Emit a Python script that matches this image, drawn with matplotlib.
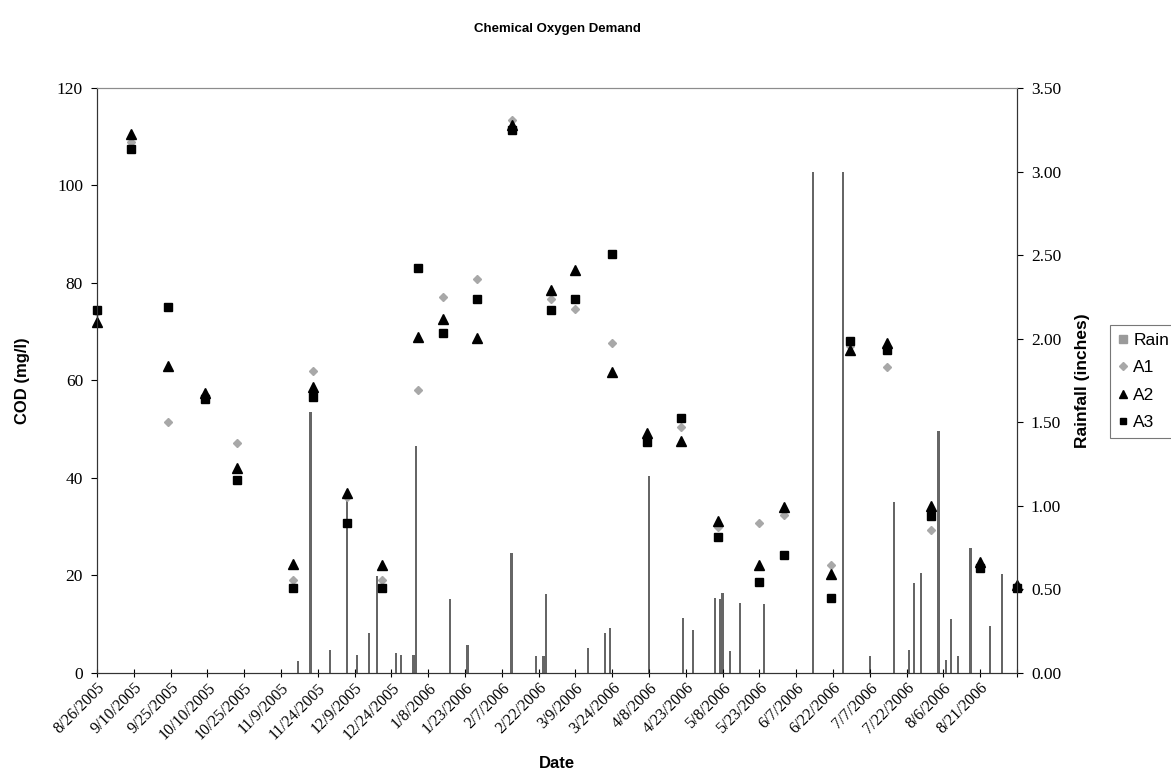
import matplotlib
matplotlib.use('Agg')
import matplotlib.pyplot as plt
from matplotlib.lines import Line2D
import pandas as pd

# COD samples (mg/l)
sample_dates = [
    "8/26/2005", "9/9/2005", "9/24/2005", "10/9/2005", "10/22/2005",
    "11/14/2005", "11/22/2005", "12/6/2005", "12/20/2005", "1/4/2006",
    "1/14/2006", "1/28/2006", "2/11/2006", "2/27/2006", "3/9/2006",
    "3/24/2006", "4/7/2006", "4/21/2006", "5/6/2006", "5/23/2006",
    "6/2/2006", "6/21/2006", "6/29/2006", "7/14/2006", "8/1/2006",
    "8/21/2006", "9/5/2006",
]
a1 = [74, 109, 51.5, 57, 47.2, 19, 62, 36, 19, 58,
      77.1, 80.8, 113.5, 76.7, 74.7, 67.7, 48, 50.5, 30, 30.8,
      32.4, 22.2, 67, 62.8, 29.3, 22, 18]
a2 = [72, 110.5, 63, 57.5, 42, 22.3, 58.7, 37, 22.2, 69,
      72.6, 68.7, 112.5, 78.6, 82.7, 61.7, 49.2, 47.6, 31.2, 22.2,
      34, 20.3, 66.3, 67.7, 34.2, 22.8, 18]
a3 = [74.5, 107.5, 75, 56.3, 39.6, 17.4, 56.6, 30.8, 17.4, 83,
      69.7, 76.7, 111.3, 74.5, 76.7, 85.9, 47.3, 52.3, 27.9, 18.7,
      24.2, 15.4, 68.1, 66.3, 32.2, 21.5, 17.4]

# daily rainfall (inches)
rain_dates = [
    "11/16/2005", "11/21/2005", "11/29/2005", "12/6/2005", "12/10/2005",
    "12/15/2005", "12/18/2005", "12/26/2005", "12/28/2005", "1/2/2006",
    "1/3/2006", "1/17/2006", "1/24/2006", "2/11/2006", "2/21/2006",
    "2/24/2006", "2/25/2006", "3/14/2006", "3/21/2006", "3/23/2006",
    "4/8/2006", "4/22/2006", "4/26/2006", "5/5/2006", "5/7/2006",
    "5/8/2006", "5/11/2006", "5/15/2006", "5/25/2006", "6/14/2006",
    "6/26/2006", "7/7/2006", "7/17/2006", "7/23/2006", "7/25/2006",
    "7/28/2006", "8/4/2006", "8/7/2006", "8/9/2006", "8/12/2006",
    "8/17/2006", "8/25/2006", "8/30/2006",
]
rain = [0.07, 1.56, 0.14, 1.08, 0.11, 0.24, 0.58, 0.12, 0.11, 0.11,
        1.36, 0.44, 0.17, 0.72, 0.10, 0.10, 0.47, 0.15, 0.24, 0.27,
        1.18, 0.33, 0.26, 0.45, 0.44, 0.48, 0.13, 0.42, 0.41, 3.00,
        3.00, 0.10, 1.02, 0.14, 0.54, 0.60, 1.45, 0.08, 0.32, 0.10,
        0.75, 0.28, 0.59]

sd = pd.to_datetime(sample_dates, format="%m/%d/%Y")
rd = pd.to_datetime(rain_dates, format="%m/%d/%Y")
ticks = pd.date_range("2005-08-26", "2006-09-05", freq="15D")
tick_labels = [f"{d.month}/{d.day}/{d.year}" for d in ticks[:-1]] + [""]

fig = plt.figure(figsize=(11.71, 7.73), dpi=100)
ax = fig.add_axes([0.0828, 0.1294, 0.7857, 0.7568])
ax2 = ax.twinx()
ax.set_zorder(2)
ax.patch.set_visible(False)
ax2.set_zorder(1)

# rain bars on the secondary axis
ax2.bar(rd, rain, width=0.9, color="#666666", edgecolor="none")
ax2.set_ylim(0, 3.5)
ax2.set_yticks([0, 0.5, 1, 1.5, 2, 2.5, 3, 3.5])
ax2.set_yticklabels([f"{v:.2f}" for v in ax2.get_yticks()],
                    family="Liberation Serif", fontsize=12.5)
ax2.set_ylabel("Rainfall (inches)", family="Liberation Sans",
               fontweight="bold", fontsize=12.5)
ax2.yaxis.set_label_coords(1.063, 0.5)

# COD markers
ax.plot(sd, a1, linestyle="none", marker="D", markersize=4, color="#a8a8a8",
        clip_on=False)
ax.plot(sd, a2, linestyle="none", marker="^", markersize=6.5, color="black",
        clip_on=False)
ax.plot(sd, a3, linestyle="none", marker="s", markersize=5.5, color="black",
        clip_on=False)

ax.set_xlim(ticks[0], ticks[-1])
ax.set_ylim(0, 120)
ax.set_yticks(range(0, 121, 20))
ax.set_yticklabels([str(v) for v in range(0, 121, 20)],
                   family="Liberation Serif", fontsize=12.5)
ax.set_xticks(ticks)
ax.set_xticklabels(tick_labels, rotation=45, ha="right",
                   rotation_mode="anchor", family="Liberation Serif",
                   fontsize=11.5)
ax.tick_params(axis="x", direction="inout", length=6, pad=2)
ax.tick_params(axis="y", direction="out", length=4, pad=6)
ax2.tick_params(axis="y", direction="out", length=4, pad=6)

ax.set_ylabel("COD (mg/l)", family="Liberation Sans", fontweight="bold",
              fontsize=12)
ax.yaxis.set_label_coords(-0.073, 0.5)
ax.set_xlabel("Date", family="Liberation Sans", fontweight="bold",
              fontsize=12)
ax.xaxis.set_label_coords(0.5, -0.142)

for a in (ax, ax2):
    a.spines["top"].set_color("#8c8c8c")
    a.spines["left"].set_color("#333333")
    a.spines["right"].set_color("#333333")
    a.spines["bottom"].set_color("#333333")

fig.text(0.476, 0.963, "Chemical Oxygen Demand", ha="center", va="center",
         family="Liberation Sans", fontweight="bold", fontsize=9.5)

handles = [
    Line2D([], [], linestyle="none", marker="s", markersize=6, color="#9a9a9a"),
    Line2D([], [], linestyle="none", marker="D", markersize=4, color="#a8a8a8"),
    Line2D([], [], linestyle="none", marker="^", markersize=6, color="black"),
    Line2D([], [], linestyle="none", marker="s", markersize=5, color="black"),
]
leg = fig.legend(handles, ["Rain", "A1", "A2", "A3"], loc="upper left",
                 bbox_to_anchor=(1110 / 1171, 1 - 325 / 773),
                 prop={"family": "Liberation Sans", "size": 12.5},
                 frameon=True, fancybox=False, edgecolor="#555555",
                 handlelength=0.6, handletextpad=0.3, borderpad=0.45,
                 labelspacing=0.7, borderaxespad=0)
leg.get_frame().set_linewidth(0.8)

fig.savefig("out.png", dpi=100)
